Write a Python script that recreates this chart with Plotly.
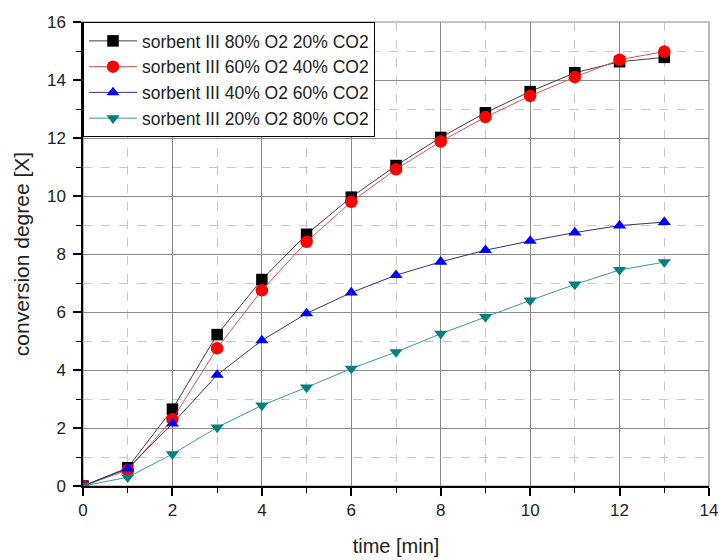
import plotly.graph_objects as go

time_min = [0, 1, 2, 3, 4, 5, 6, 7, 8, 9, 10, 11, 12, 13]
s80_o2 = [0.0, 0.63, 2.65, 5.22, 7.12, 8.68, 9.96, 11.05, 12.02, 12.87, 13.6, 14.25, 14.63, 14.78]
s60_o2 = [0.0, 0.55, 2.3, 4.75, 6.75, 8.42, 9.8, 10.92, 11.88, 12.72, 13.45, 14.1, 14.7, 14.98]
s40_o2 = [0.0, 0.6, 2.15, 3.83, 5.02, 5.95, 6.67, 7.27, 7.73, 8.13, 8.45, 8.74, 8.98, 9.1]
s20_o2 = [0.0, 0.3, 1.1, 2.02, 2.78, 3.4, 4.05, 4.62, 5.25, 5.83, 6.4, 6.95, 7.45, 7.72]

names = [
    "sorbent III 80% O2 20% CO2",
    "sorbent III 60% O2 40% CO2",
    "sorbent III 40% O2 60% CO2",
    "sorbent III 20% O2 80% CO2",
]
series = [s80_o2, s60_o2, s40_o2, s20_o2]
marker_colors = ["#000000", "#FF0000", "#0000FF", "#008080"]
line_colors = ["#404040", "#E05050", "#303090", "#3A9A9A"]
symbols = ["square", "circle", "triangle-up", "triangle-down"]
sizes = [11.5, 12.5, 11.5, 11.5]

FONT = "Liberation Sans, Arial, sans-serif"

fig = go.Figure()
for name, ys, mc, lc, sym, sz in zip(names, series, marker_colors, line_colors, symbols, sizes):
    fig.add_trace(go.Scatter(
        x=time_min, y=ys, name=name, mode="lines+markers",
        line=dict(color=lc, width=1),
        marker=dict(symbol=sym, size=sz, color=mc, line=dict(width=0)),
    ))

axis_common = dict(
    showgrid=True, gridcolor="#8a8a8a", gridwidth=1.2,
    showline=True, linecolor="#000000", linewidth=1.5,
    ticks="outside", ticklen=8, tickcolor="#000000", tickwidth=1.5,
    zeroline=False, mirror=False, automargin=False,
    tickfont=dict(family=FONT, size=17, color="#222222"),
    minor=dict(dtick=1, showgrid=True, gridcolor="#c8c8c8", griddash="dash",
               gridwidth=1, ticks="outside", ticklen=5, tickcolor="#000000", tickwidth=1.2),
)

fig.update_xaxes(range=[0, 14], dtick=2, tick0=0,
                 title=dict(text="time [min]", standoff=20,
                            font=dict(family=FONT, size=20, color="#222222")),
                 **axis_common)
fig.update_yaxes(range=[0, 16], dtick=2, tick0=0, ticklabelstandoff=4,
                 title=dict(text="conversion degree [X]", standoff=12,
                            font=dict(family=FONT, size=21, color="#222222")),
                 **axis_common)

# top/right frame in gray
fig.add_shape(type="rect", xref="paper", yref="paper", x0=0, y0=0, x1=1, y1=1,
              line=dict(color="#8a8a8a", width=1.2), layer="below")

fig.update_layout(
    width=719, height=560,
    margin=dict(l=83, r=10, t=22, b=74),
    paper_bgcolor="white", plot_bgcolor="white",
    font=dict(family=FONT, size=18, color="#222222"),
    legend=dict(x=0.0, y=1.0, xanchor="left", yanchor="top",
                bgcolor="white", bordercolor="#000000", borderwidth=1,
                itemwidth=48,
                font=dict(family=FONT, size=17.5, color="#222222"), tracegroupgap=0),
    showlegend=True,
)

fig.write_html(
    "out.html",
    config={"displayModeBar": False},
    post_script="document.body.style.margin='0';document.body.style.overflow='hidden';",
)
